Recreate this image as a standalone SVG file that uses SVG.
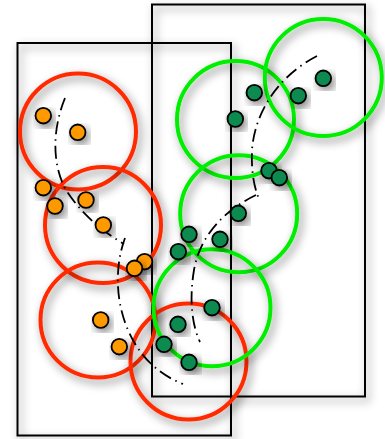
<svg xmlns="http://www.w3.org/2000/svg" width="385" height="439" viewBox="0 0 385 439">
<defs>
<filter id="sh" x="-30%" y="-30%" width="160%" height="160%">
<feGaussianBlur in="SourceAlpha" stdDeviation="5"/>
<feOffset dx="3" dy="4" result="b"/>
<feComponentTransfer><feFuncA type="linear" slope="0.5"/></feComponentTransfer>
<feMerge><feMergeNode/><feMergeNode in="SourceGraphic"/></feMerge>
</filter>
<style>
.frame{fill:none;stroke:#000;stroke-width:2;filter:url(#sh)}
.red{fill:none;stroke:#ff2a00;stroke-width:4;filter:url(#sh)}
.grn{fill:none;stroke:#00ee00;stroke-width:4;filter:url(#sh)}
.od{fill:#ff9900;stroke:#000;stroke-width:1.8;filter:url(#sh)}
.gd{fill:#0a8a50;stroke:#000;stroke-width:1.8;filter:url(#sh)}
.track{fill:none;stroke:#000;stroke-width:1.8;stroke-dasharray:13 5 1.5 5}
</style>
</defs>
<rect width="385" height="439" fill="#fff"/>
<g id="frame-left"><rect class="frame" x="17.5" y="43" width="213.5" height="392.5"/></g>
<g id="frame-right"><rect class="frame" x="152" y="4.5" width="213" height="392"/></g>
<g id="red-circles">
<circle id="r1" class="red" cx="78" cy="131.5" r="58"/>
<circle id="r2" class="red" cx="103" cy="225" r="58"/>
<circle id="r3" class="red" cx="98" cy="320" r="57.5"/>
<circle id="r4" class="red" cx="188.5" cy="361.5" r="58"/>
</g>
<g id="green-circles">
<circle id="g1" class="grn" cx="235.5" cy="119.5" r="58.5"/>
<circle id="g2" class="grn" cx="323.3" cy="77.5" r="58.5"/>
<circle id="g3" class="grn" cx="238.7" cy="213.7" r="58.5"/>
<circle id="g4" class="grn" cx="212" cy="307.7" r="58.5"/>
</g>
<g id="connectors">
<path class="track" d="M65,98 C52,130 52,165 66,190 C80,212 100,230 124,244"/>
<path class="track" d="M125,238 C115,265 115,300 128,330 C140,358 160,375 183,384"/>
<path class="track" d="M317,56 C280,75 255,110 252,150 C251,175 255,190 260,201"/>
<path class="track" d="M256,195 C225,210 200,235 194,270 C189,300 192,325 200,342"/>
</g>
<g id="orange-dots">
<circle class="od" cx="43.3" cy="115.7" r="7.8"/>
<circle class="od" cx="77.7" cy="132.3" r="7.8"/>
<circle class="od" cx="43.3" cy="187.7" r="7.8"/>
<circle class="od" cx="55" cy="206" r="7.8"/>
<circle class="od" cx="86" cy="200" r="7.8"/>
<circle class="od" cx="103.3" cy="225" r="7.8"/>
<circle class="od" cx="144.5" cy="261.7" r="7.8"/>
<circle class="od" cx="134.5" cy="268.3" r="7.8"/>
<circle class="od" cx="100.7" cy="320" r="7.8"/>
<circle class="od" cx="119.3" cy="346.7" r="7.8"/>
</g>
<g id="green-dots">
<circle class="gd" cx="254.3" cy="92.7" r="7.8"/>
<circle class="gd" cx="298.3" cy="95.7" r="7.8"/>
<circle class="gd" cx="323.3" cy="78.3" r="7.8"/>
<circle class="gd" cx="235.3" cy="119" r="7.8"/>
<circle class="gd" cx="269" cy="170.7" r="7.8"/>
<circle class="gd" cx="279.3" cy="177.7" r="7.8"/>
<circle class="gd" cx="238.3" cy="213.3" r="7.8"/>
<circle class="gd" cx="189" cy="234.3" r="7.8"/>
<circle class="gd" cx="220" cy="239.3" r="7.8"/>
<circle class="gd" cx="178.3" cy="251.7" r="7.8"/>
<circle class="gd" cx="212" cy="307.7" r="7.8"/>
<circle class="gd" cx="178" cy="324.3" r="7.8"/>
<circle class="gd" cx="164" cy="344.3" r="7.8"/>
<circle class="gd" cx="189" cy="362.3" r="7.8"/>
</g>
</svg>
